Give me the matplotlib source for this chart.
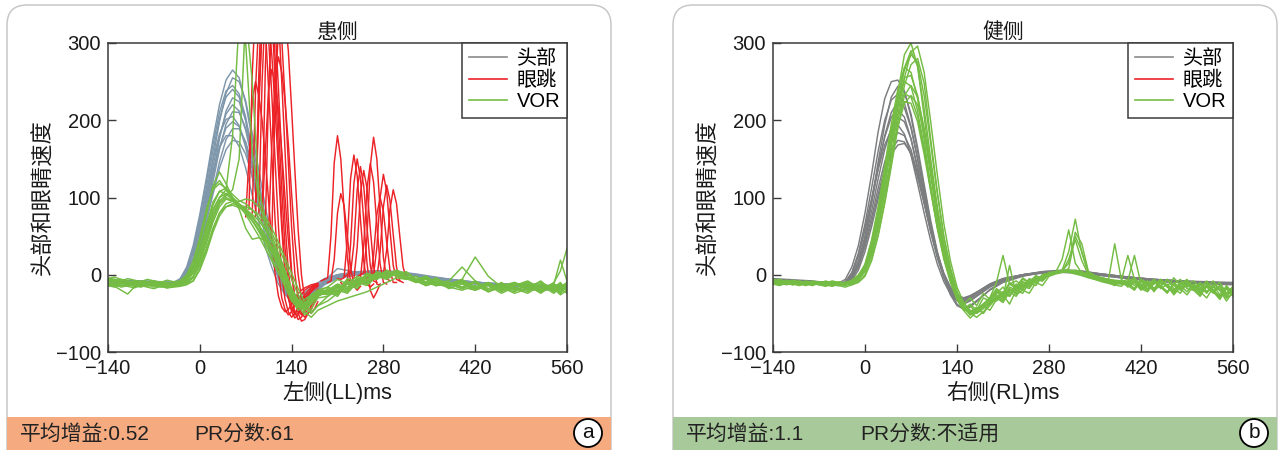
import numpy as np
import matplotlib
matplotlib.use('Agg')
import matplotlib.pyplot as plt
from matplotlib.lines import Line2D
from matplotlib.patches import FancyBboxPatch, Rectangle, Circle

plt.rcParams['font.family'] = ['Liberation Sans', 'Noto Sans CJK SC']
plt.rcParams['axes.unicode_minus'] = True

HEAD_L_COLOR = '#7f97ab'
HEAD_R_COLOR = '#7b7d7e'
SACC_COLOR = '#ec2227'
VOR_COLOR = '#74bc43'
LEGEND_HEAD = '#8a8a8a'
FOOT_L = '#f5aa80'
FOOT_R = '#a8c99a'
FRAME_GRAY = '#c8c8c8'
SPINE = '#3a3a3a'

# ---- head impulse velocity (deg/s), sampled at T_HEAD (ms) ----
T_HEAD = [-140, -120, -100, -80, -60, -40, -30, -20, -10, 0, 10, 20, 30, 40, 50, 60, 70, 80, 90, 100,
          110, 120, 130, 140, 150, 160, 175, 190, 210, 240, 270, 300, 330, 360, 400, 440, 480, 520, 560]

HEAD_L = [
    [-6, -7, -8, -9, -10, -10, -5, 10, 38, 78, 125, 175, 220, 252, 265, 255, 222, 175, 122, 75,
     35, 2, -22, -35, -38, -33, -20, -8, 0, 4, 5, 3, -1, -5, -9, -12, -14, -15, -15],
    [-8, -8, -9, -10, -11, -11, -9, 0, 20, 55, 100, 150, 198, 235, 255, 250, 225, 183, 135, 88,
     45, 10, -17, -33, -39, -36, -25, -12, -3, 2, 4, 3, 0, -4, -9, -12, -15, -17, -18],
    [-10, -10, -11, -11, -12, -12, -8, 5, 30, 68, 112, 160, 202, 230, 240, 230, 200, 155, 108, 64,
     28, -2, -24, -36, -38, -32, -20, -8, 8, 3, 5, 4, 1, -3, -8, -11, -13, -14, -14],
    [-9, -9, -10, -10, -11, -11, -9, 2, 22, 55, 95, 140, 180, 208, 220, 212, 187, 148, 104, 63,
     28, 0, -20, -31, -34, -30, -19, -9, -2, 2, 3, 2, -1, -5, -9, -12, -14, -15, -16],
    [-7, -8, -8, -9, -10, -10, -9, -3, 12, 40, 78, 120, 162, 195, 211, 210, 190, 155, 113, 72,
     36, 6, -17, -30, -35, -33, -24, -13, -5, 0, 2, 2, -1, -4, -8, -11, -13, -14, -15],
    [-11, -11, -12, -12, -12, -12, -8, 6, 30, 66, 106, 148, 182, 201, 205, 193, 165, 126, 86, 50,
     19, -6, -24, -33, -33, -27, -16, -6, 0, 3, 4, 2, -2, -6, -10, -13, -15, -16, -17],
    [-8, -9, -9, -10, -10, -10, -7, 3, 22, 52, 88, 128, 165, 190, 198, 192, 170, 136, 98, 60,
     27, 1, -19, -30, -33, -29, -19, -9, -2, 2, 3, 2, -1, -5, -9, -12, -14, -15, -15],
    [-10, -10, -10, -11, -11, -11, -10, -4, 10, 36, 70, 108, 146, 175, 189, 189, 172, 142, 106, 68,
     33, 5, -16, -28, -31, -29, -21, -11, -3, 1, 3, 2, -1, -4, -8, -11, -13, -14, -14],
    [-9, -9, -10, -10, -11, -11, -7, 6, 28, 60, 96, 134, 165, 180, 180, 166, 138, 103, 68, 36,
     9, -12, -26, -32, -30, -23, -13, -5, 0, 3, 4, 2, -2, -6, -10, -13, -14, -15, -16],
    [-7, -7, -8, -8, -9, -10, -10, -6, 8, 38, 80, 128, 176, 212, 229, 224, 200, 160, 114, 70,
     33, 3, -19, -32, -36, -33, -22, -11, -3, 1, 3, 3, 0, -4, -8, -11, -13, -14, -15],
    [-8, -9, -9, -10, -10, -11, -7, 8, 34, 74, 120, 168, 210, 238, 245, 234, 204, 160, 112, 68,
     30, 0, -22, -34, -37, -33, -22, -10, -2, 3, 5, 4, 0, -4, -10, -14, -18, -20, -18],
    [-9, -10, -10, -11, -11, -12, -10, -3, 12, 38, 70, 104, 138, 162, 174, 172, 156, 128, 95, 60,
     28, 2, -17, -27, -30, -27, -19, -10, -3, 1, 3, 2, -1, -5, -9, -12, -14, -15, -15],
]

HEAD_R = [
    [-5, -6, -7, -8, -10, -11, -6, 10, 38, 80, 130, 185, 228, 250, 252, 238, 205, 160, 112, 66,
     28, -3, -26, -40, -44, -40, -30, -20, -10, -2, 3, 5, 4, 0, -4, -7, -9, -10, -11],
    [-8, -8, -9, -10, -11, -12, -9, 3, 28, 66, 112, 160, 200, 226, 234, 222, 192, 150, 105, 62,
     26, -2, -22, -34, -38, -34, -25, -16, -8, -1, 3, 5, 4, 1, -3, -6, -8, -10, -11],
    [-6, -7, -8, -9, -10, -11, -10, -2, 18, 50, 92, 138, 180, 210, 224, 216, 190, 150, 106, 64,
     28, 0, -20, -32, -36, -33, -24, -15, -7, 0, 4, 6, 5, 1, -3, -7, -9, -11, -12],
    [-10, -10, -11, -12, -13, -14, -11, 0, 24, 58, 98, 140, 178, 204, 214, 204, 176, 136, 94, 55,
     22, -4, -22, -32, -35, -31, -22, -14, -7, -1, 3, 4, 3, 0, -4, -8, -10, -12, -13],
    [-7, -8, -9, -10, -11, -12, -10, -3, 14, 44, 82, 124, 162, 190, 204, 198, 176, 140, 100, 60,
     26, 0, -18, -29, -32, -29, -21, -13, -6, 0, 3, 4, 3, 0, -4, -7, -9, -10, -11],
    [-9, -9, -10, -11, -12, -13, -10, 2, 26, 60, 98, 136, 168, 188, 194, 182, 155, 118, 80, 44,
     14, -9, -25, -33, -34, -29, -20, -12, -5, 0, 4, 5, 3, -1, -5, -8, -10, -11, -12],
    [-6, -7, -8, -9, -10, -11, -10, -4, 12, 40, 74, 112, 146, 172, 184, 180, 162, 130, 94, 58,
     25, 0, -17, -27, -30, -27, -20, -12, -5, 0, 3, 4, 3, 0, -3, -6, -8, -9, -10],
    [-8, -8, -9, -10, -11, -12, -11, -5, 10, 36, 68, 104, 138, 162, 174, 172, 156, 126, 92, 56,
     24, -1, -18, -28, -31, -28, -21, -13, -6, 0, 3, 4, 3, 0, -3, -7, -9, -10, -11],
    [-9, -9, -10, -11, -12, -13, -12, -7, 6, 30, 62, 98, 132, 156, 168, 170, 158, 132, 98, 62,
     28, 2, -16, -26, -30, -28, -21, -14, -7, -1, 2, 3, 2, -1, -5, -8, -10, -11, -12],
    [-7, -8, -8, -9, -10, -11, -11, -5, 14, 48, 94, 146, 194, 230, 244, 236, 208, 165, 117, 70,
     30, 0, -24, -38, -45, -42, -31, -19, -9, -1, 3, 5, 4, 1, -3, -6, -8, -10, -11],
]

# ---- eye velocity during VOR, left (lesioned) side ----
T_VOR_L = [-140, -130, -120, -110, -100, -90, -80, -70, -60, -50, -40, -30, -20, -10,
           0, 10, 20, 30, 40, 50, 60, 70, 80, 90, 100, 110, 120, 130, 140, 150, 160, 170, 180,
           195, 210, 225, 240, 255, 270, 285, 300, 315, 330, 345, 360,
           380, 400, 420, 440, 460, 480, 500, 520, 540, 550, 560]

VOR_L = [
    [-5, -3, -6, -8, -10, -12, -9, -11, -13, -14, -12, -10, -3, 12,
     40, 78, 115, 133, 118, 100, 92, 85, 74, 62, 48, 32, 14, -6, -24, -38, -42, -32, -22,
     -16, -6, -12, -2, -6, 3, -2, 6, 1, -6, -2, -10,
     -12, -6, -16, -10, -20, -12, -18, -8, -22, -14, -16],
    [-8, -10, -7, -9, -11, -8, -10, -12, -9, -11, -13, -11, -6, 5,
     28, 60, 90, 108, 112, 104, 96, 92, 84, 74, 60, 42, 20, -5, -28, -42, -38, -30, -24,
     -20, -26, -8, -14, 2, -4, 6, 0, 4, -6, -10, -4,
     -14, -10, -18, -12, -20, -14, -10, -22, -16, -24, -12],
    [-12, -14, -11, -13, -15, -12, -14, -13, -16, -15, -14, -13, -10, -2,
     18, 45, 72, 92, 100, 96, 90, 84, 78, 70, 58, 44, 26, 4, -20, -40, -52, -44, -30,
     -28, -18, -22, -8, -12, 0, -4, 2, -3, -8, -4, -14,
     -12, -18, -10, -22, -14, -18, -24, -14, -20, -12, -21],
    [-10, -15, -20, -25, -16, -12, -14, -11, -13, -12, -14, -12, -8, 4,
     26, 55, 82, 100, 105, 98, 88, 80, 70, 58, 44, 28, 10, -12, -32, -46, -40, -34, -26,
     -24, -15, -20, -6, -10, 4, 0, 6, -2, -8, -4, -12,
     -16, -10, -18, -12, -20, -10, -16, -22, -14, -20, -10],
    [-15, -13, -16, -14, -12, -15, -13, -16, -14, -17, -15, -14, -12, -4,
     15, 40, 68, 88, 98, 95, 90, 86, 76, 64, 50, 34, 16, -4, -22, -34, -44, -36, -28,
     -22, -28, -10, -16, -2, -6, 3, -2, -5, -10, -4, -12,
     -14, -6, 23, -2, -16, -10, -20, -12, -18, -24, -14],
    [-6, -8, -10, -12, -9, -11, -13, -10, -12, -14, -12, -14, -12, -8,
     8, 32, 58, 80, 92, 95, 95, 98, 96, 88, 75, 60, 42, 22, 2, -18, -36, -48, -40,
     -34, -24, -12, -18, -2, -6, 4, 0, -4, -8, -2, -12,
     -14, -8, -18, -12, -22, -14, -10, -20, -10, 5, 34],
    [-9, -7, -10, -12, -14, -11, -9, -12, -15, -13, -11, -10, -5, 8,
     32, 64, 94, 108, 105, 98, 90, 82, 70, 56, 40, 22, 4, -16, -34, -42, -36, -28, -20,
     -22, -14, -18, -5, -10, 2, -2, 4, -4, -8, -14, -10,
     -8, 10, -8, -18, -10, -20, -14, -24, -12, 19, -8],
    [-11, -13, -10, -12, -14, -16, -13, -11, -13, -15, -12, -11, -9, -3,
     12, 34, 60, 80, 88, 90, 87, 82, 74, 64, 52, 36, 18, -2, -20, -36, -48, -55, -46,
     -40, -34, -30, -26, -22, -16, -10, -4, -6, -2, -12, -8,
     -18, -12, -20, -14, -24, -16, -22, -12, -18, -26, -20],
    [-7, -9, -6, -8, -10, -9, -11, -8, -10, -12, -11, -8, 0, 18,
     48, 85, 110, 118, 112, 100, 90, 78, 64, 50, 34, 18, 2, -14, -30, -38, -32, -26, -20,
     -16, -22, -5, -10, 2, -2, 5, 0, -4, -8, -3, -12,
     -10, -16, -8, -20, -12, -18, -10, -20, -16, -10, -22],
    [-10, -12, -9, -11, -13, -10, -12, -14, -11, -13, -12, -10, -4, 8,
     30, 58, 85, 100, 110, 180, 330, 300, 160, 95, 64, 44, 24, 2, -20, -36, -44, -34, -24,
     -22, -14, -18, -4, -8, 2, -2, 3, -4, -10, -6, -14,
     -12, -18, -8, -22, -14, -10, -20, -14, -24, -16, -20],
    [-8, -6, -9, -11, -8, -10, -12, -9, -11, -10, -12, -11, -7, 3,
     22, 50, 78, 96, 102, 110, 150, 340, 250, 110, 72, 50, 28, 6, -18, -34, -40, -32, -24,
     -26, -16, -22, -6, -10, 1, -3, 2, -6, -2, -10, -14,
     -10, -16, -20, -12, -18, -22, -12, -18, -14, -22, -16],
    [-13, -11, -14, -12, -10, -13, -15, -12, -14, -11, -13, -12, -8, 2,
     20, 46, 74, 94, 104, 98, 85, 60, 46, 48, 44, 34, 18, 0, -18, -32, -38, -30, -22,
     -20, -12, -16, -6, -10, 0, -4, 4, -2, -6, -12, -8,
     -14, -10, -18, -12, -16, -20, -14, -10, -18, -12, -20],
    [-4, -6, -8, -5, -7, -9, -6, -8, -10, -7, -9, -8, -2, 14,
     44, 82, 112, 122, 110, 96, 88, 80, 70, 58, 46, 30, 12, -8, -26, -40, -46, -38, -28,
     -18, -24, -8, -12, 0, -4, 4, -1, 2, -6, -10, -6,
     -12, -8, -16, -10, -18, -14, -8, -18, -12, -16, -10],
    [-14, -16, -13, -15, -17, -14, -16, -18, -15, -17, -16, -15, -13, -8,
     6, 28, 55, 76, 88, 92, 90, 88, 84, 78, 68, 54, 36, 16, -6, -26, -42, -50, -40,
     -28, -20, -24, -10, -14, -2, -6, 2, -4, -8, -14, -10,
     -16, -20, -14, -22, -16, -24, -18, -12, -22, -18, -24],
]

# ---- saccades (5 ms samples from each onset) ----
SACC_STEP = 5
COVERT_ONSET = [70, 75, 80, 85, 85, 90, 95, 95, 100, 105, 110, 85]
COVERT_VEL = [
    [75, 150, 225, 250, 232, 200, 150, 95, 42, 0, -28, -42, -48, -45, -38, -30, -24, -20, -17, -15, -13, -12, -11],
    [85, 260, 350, 400, 372, 320, 240, 152, 68, 5, -30, -45, -52, -48, -40, -32, -25, -20, -17, -15, -13, -12],
    [80, 240, 330, 380, 355, 305, 230, 145, 62, 0, -32, -48, -55, -50, -42, -33, -26, -21, -17, -14, -12],
    [75, 260, 370, 420, 390, 335, 250, 160, 72, 5, -30, -48, -56, -52, -44, -35, -27, -21, -17, -14],
    [90, 230, 315, 350, 328, 282, 212, 135, 60, 2, -30, -45, -50, -46, -38, -30, -24, -19, -15, -13],
    [80, 250, 350, 400, 372, 320, 240, 152, 68, 5, -30, -48, -58, -55, -47, -38, -30, -24, -19],
    [75, 160, 240, 266, 248, 213, 160, 100, 45, 0, -30, -46, -52, -47, -39, -31, -24, -19],
    [70, 270, 380, 420, 390, 335, 250, 160, 70, 5, -32, -50, -60, -58, -50, -40, -32, -26],
    [65, 240, 330, 380, 355, 305, 228, 145, 62, 2, -32, -50, -55, -50, -40, -30, -24],
    [60, 170, 255, 282, 262, 225, 170, 105, 45, 0, -30, -45, -50, -45, -36, -28],
    [55, 230, 320, 360, 335, 290, 215, 135, 58, 0, -32, -46, -50, -44, -35],
    [85, 210, 330, 390, 395, 350, 280, 195, 110, 35, -15, -40, -52, -50, -42, -34, -27, -22, -18, -15],
]

OVERT_ONSET = [185, 210, 215, 220, 225, 240, 235, 255, 260, 270, 250, 195]
OVERT_VEL = [
    [-8, -6, -4, 50, 145, 180, 150, 85, 22, -10, -14, -12],
    [-5, -6, -4, 45, 125, 155, 128, 72, 18, -12, -16, -12],
    [-10, -15, -10, 40, 118, 150, 125, 70, 15, -20, -30, -22, -12],
    [-3, 0, 2, 40, 110, 140, 115, 62, 12, -8, -10],
    [-6, -8, -5, 35, 105, 135, 112, 60, 12, -12, -14],
    [-2, 0, 2, 50, 140, 178, 150, 85, 22, -5, -8],
    [-10, -8, -5, 38, 112, 144, 120, 65, 14, -10, -12],
    [-4, -2, 0, 35, 100, 130, 108, 58, 12, -6, -8],
    [-8, -6, -4, 30, 88, 116, 96, 52, 10, -8, -10],
    [-2, 0, 2, 32, 85, 110, 92, 50, 10, -4, -6],
    [-12, -10, -8, 25, 78, 100, 82, 42, 6, -10, -10],
    [-10, -8, 20, 80, 105, 90, 50, 10, -15, -20, -15],
]

# ---- eye velocity during VOR, right (healthy) side, 10 ms samples ----
T_VOR_R = list(range(-140, 561, 10))

VOR_R = [
    [-8, -10, -7, -9, -11, -8, -10, -12, -9, -11, -13, -10, -12, -6,
     8, 35, 75, 125, 180, 235, 285, 300, 270, 205,
     140, 78, 28, -8, -32, -45, -38, -46, -30, -34,
     -22, -28, -16, -20, -9, -12, -4, -6, 0, 2,
     4, 5, 4, 2, 0, -2, -4, -6, -7, -8,
     -9, -4, -14, -8, -18, -10, -14, -20, -10, -16,
     -12, -20, -14, -22, -15, -26, -17],
    [-10, -12, -9, -11, -13, -10, -12, -9, -11, -14, -12, -10, -8, -2,
     14, 45, 88, 140, 195, 240, 268, 262, 228, 175,
     115, 62, 22, -8, -30, -44, -50, -46, -38, -30,
     -20, -26, -12, -18, -6, -10, -2, -4, 2, 4,
     6, 30, 72, 28, 2, -2, -4, -6, -8, -9,
     -6, -14, -8, -18, -12, -6, -16, -20, -10, -14,
     -18, -10, -22, -14, -26, -18, -28],
    [-7, -9, -11, -8, -10, -12, -9, -11, -13, -10, -12, -14, -11, -5,
     6, 30, 68, 115, 168, 222, 268, 290, 270, 215,
     150, 88, 36, 0, -26, -42, -48, -44, -38, -30,
     -10, 25, -12, -8, -14, -10, -6, -3, 0, 3,
     20, 58, 15, 2, -2, -5, -7, -8, -10, -11,
     -12, -4, -16, -20, -8, -14, -22, -12, -6, -18,
     -20, -12, -16, -24, -14, -30, -25],
    [-12, -10, -13, -11, -9, -12, -14, -11, -13, -10, -12, -11, -13, -9,
     0, 20, 52, 95, 145, 198, 245, 272, 280, 248,
     175, 108, 50, 8, -22, -40, -50, -55, -48, -40,
     -30, -36, -22, -28, -14, -18, -6, -8, 1, 3,
     4, 5, 3, 1, -2, -5, -8, -9, 40, -6,
     -14, -20, -8, -12, -18, -6, -14, -22, -12, -8,
     -20, -14, -10, -22, -28, -16, -23],
    [-9, -11, -8, -10, -12, -9, -11, -13, -10, -12, -9, -11, -7, 0,
     12, 40, 80, 128, 178, 218, 234, 230, 205, 162,
     112, 64, 26, -4, -26, -38, -30, -40, -24, -32,
     -18, -24, -10, -16, -4, -10, -1, -6, 3, 4,
     5, 4, 2, -1, -3, -6, -8, -10, -12, -8,
     25, -6, -16, -8, -20, -10, -15, -4, -14, -22,
     -12, -18, -8, -20, -14, -24, -15],
    [-11, -13, -10, -12, -14, -11, -13, -10, -12, -14, -11, -13, -10, -4,
     10, 36, 75, 122, 170, 208, 224, 222, 198, 156,
     108, 62, 25, -5, -28, -42, -52, -44, -50, -36,
     -30, -22, -26, -12, -16, -5, -8, 0, 2, 3,
     4, 3, 1, -1, -4, -6, -9, -11, -13, -15,
     -8, 25, -12, -20, -8, -16, -24, -10, -18, -26,
     -14, -22, -30, -16, -20, -34, -22],
    [-8, -6, -9, -11, -8, -10, -12, -9, -11, -8, -10, -12, -10, -6,
     4, 25, 60, 105, 155, 208, 255, 288, 296, 262,
     198, 130, 66, 18, -16, -36, -46, -50, -44, -36,
     -26, -32, -18, -24, -10, -14, -4, -6, 2, 3,
     5, 15, 55, 40, 4, -1, -4, -6, -8, -10,
     -10, -18, -6, -14, -20, -8, -16, -24, -12, -6,
     -18, -26, -12, -20, -28, -14, -24],
    [-10, -8, -11, -13, -10, -12, -9, -11, -13, -15, -12, -10, -12, -7,
     5, 30, 70, 118, 170, 220, 255, 258, 232, 185,
     128, 72, 28, -6, -30, -46, -40, -50, -38, -30,
     -22, -30, 12, -26, -20, -24, -10, -14, -2, 1,
     3, 5, 6, 4, 1, -2, -5, -7, -9, -11,
     -12, -18, -6, -10, -20, -14, -6, -18, -24, -10,
     -14, -22, -16, -8, -20, -30, -16],
    [-12, -14, -11, -9, -12, -14, -11, -13, -15, -12, -14, -16, -13, -10,
     -2, 18, 50, 92, 140, 190, 232, 245, 230, 190,
     136, 82, 36, 2, -24, -40, -52, -48, -42, -35,
     -34, -26, -38, -20, -24, -10, -14, -2, 0, 2,
     4, 8, 50, 30, 2, -3, -6, -8, -10, -12,
     -10, -6, -18, -12, -22, -8, -14, -26, -16, -12,
     -20, -28, -14, -22, -32, -18, -20],
    [-6, -8, -10, -7, -9, -11, -8, -10, -12, -9, -11, -13, -9, -3,
     8, 32, 70, 118, 172, 225, 266, 285, 275, 232,
     170, 105, 48, 8, -22, -40, -47, -44, -40, -33,
     -24, -16, -28, -14, -18, -6, -10, 0, 2, 4,
     5, 6, 5, 2, -1, -4, -7, -9, -11, -12,
     -13, -8, -18, -22, -10, -15, -6, -14, -20, -12,
     -8, -16, -24, -12, -18, -28, -19],
    [-9, -12, -10, -13, -11, -9, -12, -10, -13, -11, -14, -12, -10, -5,
     6, 28, 62, 105, 150, 192, 222, 232, 220, 185,
     138, 86, 40, 4, -24, -40, -48, -42, -50, -38,
     -28, -34, -20, -24, -12, -16, -6, -8, 0, 2,
     4, 20, 45, 18, 0, -4, -8, -6, -12, -10,
     -14, -8, -18, -12, -6, -16, -22, -12, -18, -10,
     -16, -24, -14, -20, -30, -18, -24],
    [-10, -8, -12, -9, -11, -13, -10, -12, -8, -11, -13, -10, -8, -2,
     12, 42, 84, 134, 186, 232, 250, 244, 212, 165,
     110, 60, 20, -10, -32, -46, -56, -48, -40, -46,
     -32, -24, -28, -16, -20, -8, -10, -2, 0, 3,
     5, 6, 4, 2, -2, -6, -4, -10, -14, -8,
     -16, -10, -20, -14, -8, -18, -12, -22, -14, -10,
     -18, -12, -22, -16, -10, -24, -20],
]

X_TICKS = [-140, 0, 140, 280, 420, 560]
Y_TICKS = [-100, 0, 100, 200, 300]
LEGEND_LABELS = ['头部', '眼跳', 'VOR']

W, H = 1281, 450


def draw_frame(bg, x0, x1, foot_color, gain_text, pr_text, letter):
    r = 20
    frame = FancyBboxPatch((x0 + r, 5 + r), x1 - x0 - 2 * r, 500,
                           boxstyle='round,pad=%d' % r, facecolor='white',
                           edgecolor=FRAME_GRAY, linewidth=1.1)
    bg.add_patch(frame)
    bg.add_patch(Rectangle((x0, 417), x1 - x0, 40, facecolor=foot_color, edgecolor='none'))
    bg.text(x0 + 13, 434, gain_text, fontsize=15, va='center', ha='left', color='#222222')
    bg.text(x0 + 187, 434, pr_text, fontsize=15, va='center', ha='left', color='#222222')
    bg.add_patch(Circle((x1 - 23, 433), 14, facecolor='white', edgecolor='black', linewidth=1.3))
    bg.text(x1 - 23, 432, letter, fontsize=15, va='center', ha='center', color='#111111')


def style_axes(ax, title, xlabel):
    ax.set_xlim(-140, 560)
    ax.set_ylim(-100, 300)
    ax.set_xticks(X_TICKS)
    ax.set_yticks(Y_TICKS)
    ax.tick_params(direction='in', length=6, width=1.0, color=SPINE, labelsize=14.5,
                   top=False, right=False, pad=5, labelcolor='#1a1a1a')
    for s in ax.spines.values():
        s.set_color(SPINE)
        s.set_linewidth(1.1)
    ax.set_title(title, fontsize=15, pad=4, color='#1a1a1a')
    ax.set_xlabel(xlabel, fontsize=15.5, labelpad=2, color='#1a1a1a')
    ax.set_ylabel('头部和眼睛速度', fontsize=16, labelpad=1, color='#1a1a1a')
    handles = [Line2D([], [], color=LEGEND_HEAD, lw=1.2),
               Line2D([], [], color=SACC_COLOR, lw=1.2),
               Line2D([], [], color=VOR_COLOR, lw=1.2)]
    leg = ax.legend(handles, LEGEND_LABELS, loc='upper right', borderaxespad=0,
                    fancybox=False, edgecolor=SPINE, framealpha=1, fontsize=14.5,
                    handlelength=1.9, handletextpad=0.5, labelspacing=0.12,
                    borderpad=0.32)
    leg.get_frame().set_linewidth(1.1)


fig = plt.figure(figsize=(W / 100, H / 100), dpi=100)
bg = fig.add_axes([0, 0, 1, 1])
bg.set_xlim(0, W)
bg.set_ylim(H, 0)
bg.axis('off')

draw_frame(bg, 7, 611, FOOT_L, '平均增益:0.52', 'PR分数:61', 'a')
draw_frame(bg, 673, 1277, FOOT_R, '平均增益:1.1', 'PR分数:不适用', 'b')

lw = 1.05

# left panel: lesioned side
ax1 = fig.add_axes([108 / W, 98 / H, 459 / W, 309 / H])
for row in HEAD_L:
    ax1.plot(T_HEAD, row, color=HEAD_L_COLOR, lw=lw)
for onset, row in zip(COVERT_ONSET, COVERT_VEL):
    ax1.plot(onset + SACC_STEP * np.arange(len(row)), row, color=SACC_COLOR, lw=lw)
for onset, row in zip(OVERT_ONSET, OVERT_VEL):
    ax1.plot(onset + SACC_STEP * np.arange(len(row)), row, color=SACC_COLOR, lw=lw)
for row in VOR_L:
    ax1.plot(T_VOR_L, row, color=VOR_COLOR, lw=lw)
style_axes(ax1, '患侧', '左侧(LL)ms')

# right panel: healthy side
ax2 = fig.add_axes([773 / W, 98 / H, 460 / W, 309 / H])
for row in HEAD_R:
    ax2.plot(T_HEAD, row, color=HEAD_R_COLOR, lw=lw)
for row in VOR_R:
    ax2.plot(T_VOR_R, row, color=VOR_COLOR, lw=lw)
style_axes(ax2, '健侧', '右侧(RL)ms')

fig.savefig('out.png', dpi=100)
